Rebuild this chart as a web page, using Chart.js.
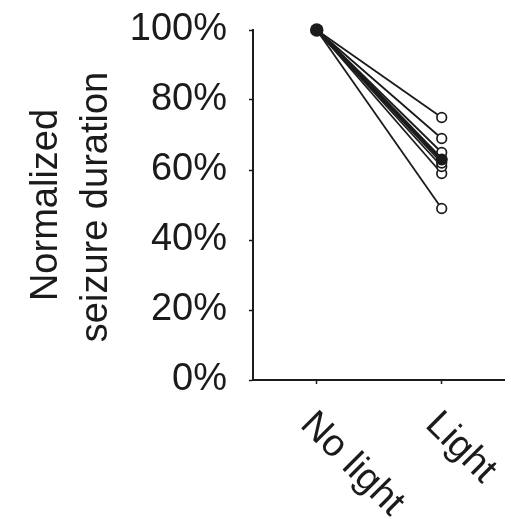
<!DOCTYPE html>
<html>
<head>
<meta charset="utf-8">
<script src="https://cdn.jsdelivr.net/npm/chart.js@4.4.1/dist/chart.umd.min.js"></script>
<style>
  html, body { margin:0; padding:0; background:#fff; }
  #wrap { width:511px; height:519px; position:relative; }
</style>
</head>
<body>
<div id="wrap"><canvas id="chart"></canvas></div>
<script>
/* ----------------- Data ----------------- */
const conditions = ['No light', 'Light'];
const noLightValues = [100, 100, 100, 100, 100, 100, 100, 100];
const lightValues = [75, 69, 65, 63, 62, 61, 59, 49];
const meanValues = [100, 63];
const yTicks = [0, 20, 40, 60, 80, 100];
const yMinorTicks = [10, 30, 50, 70, 90];
const yTitle = ['Normalized', 'seizure duration'];

const FONT = '"Liberation Sans", Arial, Helvetica, sans-serif';
const FONT_SIZE = 38;
const INK = '#1b1b1b';

/* ----------------- Datasets ----------------- */
const datasets = lightValues.map((v, i) => ({
  data: [{ x: 0, y: noLightValues[i] }, { x: 1, y: v }],
  borderColor: INK, borderWidth: 1.8,
  pointRadius: [0, 4.8], pointBorderWidth: 1.7,
  pointBorderColor: INK, pointBackgroundColor: '#fff',
  order: 1, clip: false
}));
datasets.push({
  data: meanValues.map((v, i) => ({ x: i, y: v })),
  borderColor: INK, borderWidth: 3.4,
  pointRadius: [6.8, 6], pointBorderWidth: 0,
  pointBackgroundColor: INK,
  order: 0, clip: false
});

/* ----------------- Extra text (rotated labels, y title) ----------------- */
const textPlugin = {
  id: 'textPlugin',
  afterDraw(chart) {
    const ctx = chart.ctx, xs = chart.scales.x, area = chart.chartArea;
    ctx.save();
    ctx.fillStyle = INK;
    ctx.font = FONT_SIZE + 'px ' + FONT;
    ctx.textBaseline = 'alphabetic';
    // x labels, rotated 45deg clockwise
    conditions.forEach((c, i) => {
      const px = xs.getPixelForValue(i);
      ctx.save();
      ctx.translate(px, area.bottom);
      ctx.rotate(Math.PI / 4);
      ctx.textAlign = 'left';
      ctx.fillText(c, 20, 45);
      ctx.restore();
    });
    // y title, two lines
    const cy = (area.top + area.bottom) / 2;
    const baseX = [57, 107];
    yTitle.forEach((t, i) => {
      ctx.save();
      ctx.translate(baseX[i], cy + i * 2);
      ctx.rotate(-Math.PI / 2);
      ctx.textAlign = 'center';
      ctx.fillText(t, 0, 0);
      ctx.restore();
    });
    ctx.restore();
  }
};

/* ----------------- Chart ----------------- */
new Chart(document.getElementById('chart'), {
  type: 'line',
  data: { datasets },
  options: {
    responsive: true, maintainAspectRatio: false, animation: false,
    layout: { padding: { top: 30, right: 6, left: 0, bottom: 0 } },
    plugins: { legend: { display: false }, tooltip: { enabled: false } },
    scales: {
      x: {
        type: 'linear', min: -0.51, max: 1.5,
        afterBuildTicks: s => { s.ticks = conditions.map((c, i) => ({ value: i })); },
        afterFit: s => { s.height = 139; s.paddingLeft = 0; s.paddingRight = 0; },
        ticks: { display: false },
        grid: { drawOnChartArea: false, tickLength: 4, color: INK, tickWidth: 1.5 },
        border: { color: INK, width: 2 }
      },
      y: {
        min: 0, max: 100,
        afterBuildTicks: s => { s.ticks = yTicks.concat(yMinorTicks).sort((a, b) => a - b).map(v => ({ value: v })); },
        afterFit: s => { s.width = 253; s.paddingTop = 0; s.paddingBottom = 0; },
        ticks: {
          color: INK, padding: 22,
          font: { family: FONT, size: FONT_SIZE },
          callback: v => yTicks.includes(v) ? v + '%' : ''
        },
        grid: { drawOnChartArea: false, tickLength: 4, color: INK, tickWidth: 1.5 },
        border: { color: INK, width: 2 }
      }
    }
  },
  plugins: [textPlugin]
});
</script>
</body>
</html>
